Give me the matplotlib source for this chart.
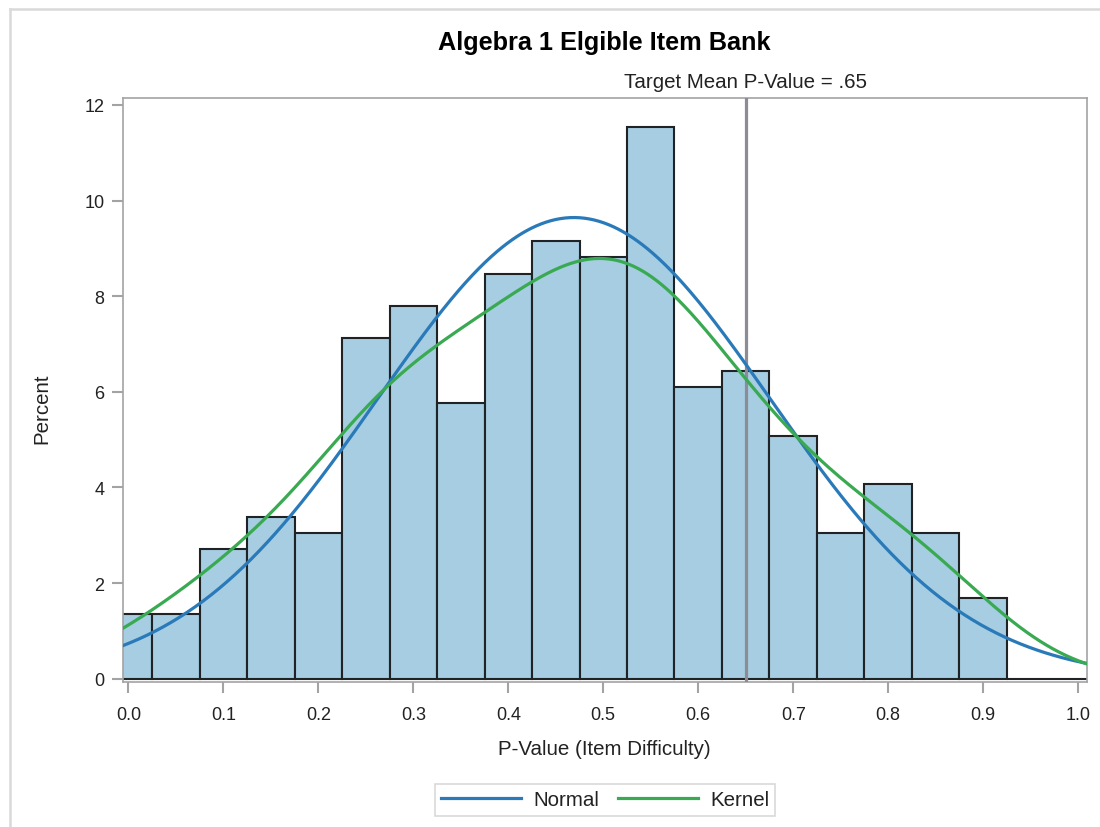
import numpy as np
import matplotlib
matplotlib.use("Agg")
import matplotlib.pyplot as plt
from matplotlib.lines import Line2D

# ---- data ----
bin_centers = [0.00, 0.05, 0.10, 0.15, 0.20, 0.25, 0.30, 0.35, 0.40, 0.45,
               0.50, 0.55, 0.60, 0.65, 0.70, 0.75, 0.80, 0.85, 0.90, 0.95, 1.00]
percents = [1.36, 1.36, 2.71, 3.39, 3.05, 7.12, 7.80, 5.76, 8.47, 9.15,
            8.81, 11.53, 6.10, 6.44, 5.08, 3.05, 4.07, 3.05, 1.69, 0.00, 0.00]
bin_width = 0.05
kernel_bandwidth = 0.08
target_mean = 0.65
x_ticks = [0.0, 0.1, 0.2, 0.3, 0.4, 0.5, 0.6, 0.7, 0.8, 0.9, 1.0]
x_tick_labels = ["0.0", "0.1", "0.2", "0.3", "0.4", "0.5", "0.6", "0.7", "0.8", "0.9", "1.0"]
y_ticks = [0, 2, 4, 6, 8, 10, 12]

title = "Algebra 1 Elgible Item Bank"
ref_label = "Target Mean P-Value = .65"
x_label = "P-Value (Item Difficulty)"
y_label = "Percent"
legend_labels = ["Normal", "Kernel"]

# ---- styling ----
plt.rcParams['font.family'] = ['Liberation Sans', 'DejaVu Sans']
BAR_FILL = '#a6cde2'
BAR_EDGE = '#1f2326'
BLUE = '#2a7ab9'
GREEN = '#3aaa52'
AXIS_GRAY = '#a3a3a3'
TEXT = '#222222'

fig = plt.figure(figsize=(11, 8.28), dpi=100)
fig.patch.set_facecolor('white')

ax = fig.add_axes([0.1115, 0.1751, 0.8764, 0.7050])

centers = np.array(bin_centers)
pcts = np.array(percents)

ax.bar(centers, pcts, width=bin_width, color=BAR_FILL, edgecolor=BAR_EDGE,
       linewidth=1.5, zorder=2)

xmin, xmax = -0.006, 1.009
xs = np.linspace(xmin, xmax, 600)

# normal fit from the binned data
w = pcts / pcts.sum()
mu = np.sum(w * centers)
sigma = np.sqrt(np.sum(w * (centers - mu) ** 2))
normal_curve = 100 * bin_width * np.exp(-0.5 * ((xs - mu) / sigma) ** 2) / (sigma * np.sqrt(2 * np.pi))

# gaussian kernel density from the binned data
z = (xs[:, None] - centers[None, :]) / kernel_bandwidth
kern = np.exp(-0.5 * z ** 2) / (kernel_bandwidth * np.sqrt(2 * np.pi))
kernel_curve = bin_width * (kern * pcts[None, :]).sum(axis=1)

ax.axvline(target_mean, color='#8c8c96', linewidth=2.3, zorder=3)
ax.plot(xs, normal_curve, color=BLUE, linewidth=2.3, zorder=4)
ax.plot(xs, kernel_curve, color=GREEN, linewidth=2.3, zorder=4)

ax.set_xlim(xmin, xmax)
ax.set_ylim(-0.07, 12.14)
ax.set_xticks(x_ticks)
ax.set_xticklabels(x_tick_labels)
ax.set_yticks(y_ticks)

for s in ax.spines.values():
    s.set_color(AXIS_GRAY)
    s.set_linewidth(1.2)
ax.tick_params(axis='both', colors=AXIS_GRAY, labelcolor=TEXT, length=8,
               width=1.5, labelsize=13)
ax.tick_params(axis='y', pad=5)
ax.tick_params(axis='x', pad=9.5)

ax.set_xlabel(x_label, fontsize=14.8, color=TEXT)
ax.set_ylabel(y_label, fontsize=14.8, color=TEXT)
ax.xaxis.set_label_coords(0.5, -0.097)
ax.yaxis.set_label_coords(-0.074, 0.47)

ax.annotate(ref_label, xy=(target_mean, 1.0), xycoords=('data', 'axes fraction'),
            xytext=(0, 5), textcoords='offset points', ha='center', va='bottom',
            fontsize=14.8, color=TEXT)

fig.text(0.5497, 1 - 43 / 828, title, ha='center', va='center',
         fontsize=18.2, fontweight='bold', color='black')

handles = [Line2D([0], [0], color=BLUE, linewidth=2.3),
           Line2D([0], [0], color=GREEN, linewidth=2.3)]
leg = fig.legend(handles, legend_labels, loc='center', bbox_to_anchor=(0.55, 1 - 801 / 828),
                 ncol=2, frameon=True, fancybox=False, fontsize=14.8,
                 handlelength=3.9, handletextpad=0.6, columnspacing=0.9,
                 borderpad=0.3, borderaxespad=0)
leg.get_frame().set_edgecolor('#cfcfcf')
leg.get_frame().set_linewidth(1.2)
for t in leg.get_texts():
    t.set_color(TEXT)

# outer frame lines (top and left)
fig.add_artist(Line2D([10 / 1100, 1.0], [1 - 10 / 828, 1 - 10 / 828],
                      transform=fig.transFigure, color='#d9d9d9', linewidth=1.8))
fig.add_artist(Line2D([10 / 1100, 10 / 1100], [0.0, 1 - 10 / 828],
                      transform=fig.transFigure, color='#d9d9d9', linewidth=1.8))

fig.savefig('out.png', dpi=100)
